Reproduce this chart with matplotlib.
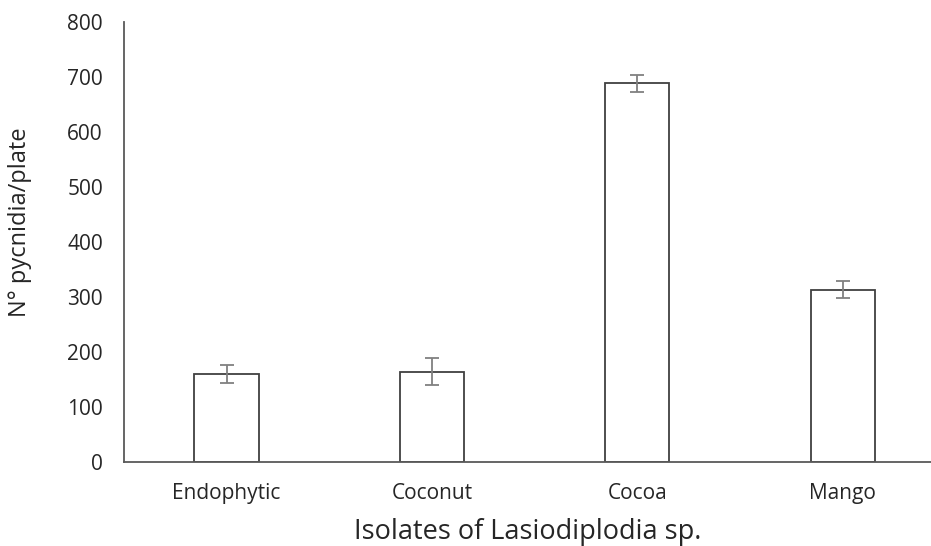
import numpy as np
import matplotlib.pyplot as plt

plt.rcParams['font.family'] = ['Open Sans', 'DejaVu Sans']

# Data
isolates = ['Endophytic', 'Coconut', 'Cocoa', 'Mango']
pycnidia = [160, 164, 688, 313]
errors = [17, 25, 15, 15]

fig = plt.figure(figsize=(9.31, 5.46), dpi=100)
ax = fig.add_axes([0.133, 0.154, 0.867, 0.806])

x = np.arange(len(isolates))
ax.bar(x, pycnidia, width=0.312, color='white', edgecolor='#404040', linewidth=1.3,
       yerr=errors, error_kw=dict(ecolor='#808080', elinewidth=1.3, capsize=5, capthick=1.3))

ax.set_xlim(-0.5, 3.43)
ax.set_ylim(0, 800)
ax.set_yticks(np.arange(0, 801, 100))
ax.set_xticks(x)
ax.set_xticklabels(isolates)

for side in ['top', 'right']:
    ax.spines[side].set_visible(False)
for side in ['left', 'bottom']:
    ax.spines[side].set_color('#595959')
    ax.spines[side].set_linewidth(1.3)

ax.tick_params(axis='both', length=0, labelsize=15, colors='#262626')
ax.tick_params(axis='y', pad=15)
ax.tick_params(axis='x', pad=15)

ax.set_xlabel('Isolates of Lasiodiplodia sp.', fontsize=19.5, color='#262626', labelpad=10)
ax.set_ylabel('N° pycnidia/plate', fontsize=17, color='#262626')
ax.yaxis.set_label_coords(-0.114, 0.545)

fig.savefig('out.png', dpi=100)
